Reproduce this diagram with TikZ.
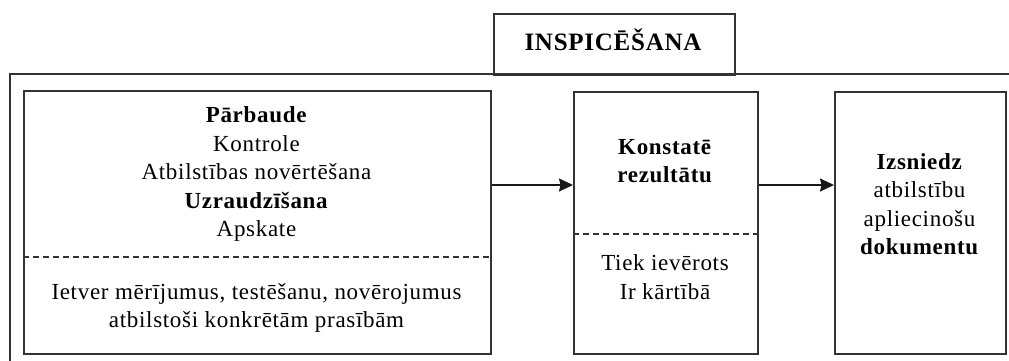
\documentclass[tikz,border=0pt]{standalone}
\usepackage{fontspec}
\setmainfont[LetterSpace=3]{Liberation Serif}
\usetikzlibrary{arrows.meta,positioning}

\definecolor{linegray}{gray}{0.2}

\begin{document}
\begin{tikzpicture}[x=1pt,y=-1pt,>={Stealth[length=14pt,width=13pt,inset=1.5pt]},
    box/.style={draw=linegray,line width=1.8pt,rectangle,anchor=north west,inner sep=0pt},
    txt/.style={align=center,font=\fontsize{23}{28.5}\selectfont,inner sep=0pt},
    divider/.style={draw=linegray,dashed,dash pattern=on 6pt off 4pt,line width=1.6pt},
    flow/.style={->,draw=black!90,line width=1.6pt}]
  \useasboundingbox (0,0) rectangle (1009,360);

  % outer frame, open to the right and below
  \draw[linegray,line width=2.2pt] (10,380) -- (10,74) -- (1030,74);

  % title box
  \node[box,minimum width=241pt,minimum height=61pt] (top) at (493,13) {};
  \node[txt,font=\fontsize{25}{28}\selectfont\bfseries] (toptxt) at (613,40) {INSPICĒŠANA};

  % three boxes
  \node[box,minimum width=467pt,minimum height=263pt] (b1) at (23,90) {};
  \node[box,minimum width=184pt,minimum height=262pt] (b2) at (573,91) {};
  \node[box,minimum width=171pt,minimum height=262pt] (b3) at (834,91) {};

  \coordinate (d1) at (0,257);
  \coordinate (d2) at (0,234);
  \coordinate (ar) at (0,185);

  \draw[divider] (b1.west |- d1) -- (b1.east |- d1);
  \draw[divider] (b2.west |- d2) -- (b2.east |- d2);

  % texts
  \node[txt] (b1up) at (256.5,174) {\textbf{Pārbaude}\\Kontrole\\Atbilstības novērtēšana\\\textbf{Uzraudzīšana}\\Apskate};
  \node[txt] (b1low) at (256.5,308) {Ietver mērījumus, testēšanu, novērojumus\\atbilstoši konkrētām prasībām};
  \node[txt] (b2up) at (665,161) {\textbf{Konstatē}\\\textbf{rezultātu}};
  \node[txt] (b2low) at (665,277) {Tiek ievērots\\Ir kārtībā};
  \node[txt] (b3txt) at (919.5,204) {\textbf{Izsniedz}\\atbilstību\\apliecinošu\\\textbf{dokumentu}};

  % arrows
  \draw[flow] (b1.east |- ar) -- (b2.west |- ar);
  \draw[flow] (b2.east |- ar) -- (b3.west |- ar);
\end{tikzpicture}
\end{document}
